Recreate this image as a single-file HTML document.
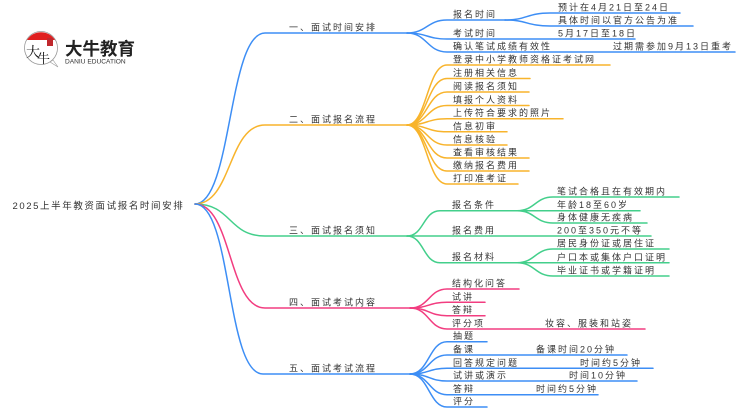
<!DOCTYPE html>
<html><head><meta charset="utf-8">
<style>
html,body{margin:0;padding:0;background:#fff;}
svg{display:block;}
text{font-family:"Liberation Sans","Noto Sans CJK SC",sans-serif;fill:#333;}
</style></head>
<body>
<svg width="750" height="410" viewBox="0 0 750 410" xmlns="http://www.w3.org/2000/svg">
<!-- Logo -->
<g>
  <circle cx="41" cy="48" r="16.5" fill="#fff" stroke="#999" stroke-width="0.8"/>
  <path d="M27,40 A16.5,16.5 0 0 1 55,40 Z" fill="#e02020"/>
  <path d="M50,62 L58,67 L53,60 Z" fill="#fff" stroke="#999" stroke-width="0.6"/>
  <text x="26" y="57" font-size="14" style="fill:#111;font-family:'Noto Serif CJK SC',serif">大</text>
  <text x="37" y="63" font-size="13" style="fill:#111;font-family:'Noto Serif CJK SC',serif">牛</text>
  <rect x="47" y="38" width="6" height="8" fill="#c0282d"/>
  <text x="65" y="55" font-size="17.5" font-weight="bold" style="fill:#222;">大牛教育</text>
  <text x="65" y="63.5" font-size="6.6" style="fill:#333;">DANIU EDUCATION</text>
</g>

<!-- Root -->
<text x="12.5" y="208.8" font-size="9.5" letter-spacing="1.6">2025上半年教资面试报名时间安排</text>

<g fill="none" stroke-width="1.5" stroke-linecap="round">
  <!-- Branch 1 blue -->
  <g stroke="#3d8ef5">
    <path d="M195,204 C232,204 228,33 265,33 H407"/>
    <path d="M407,33 C427,33 427,20 447,20 H505"/>
    <path d="M505,20 C527,20 527,13 550,13 H680"/>
    <path d="M505,20 C527,20 527,26 550,26 H693"/>
    <path d="M407,33 C427,33 427,39 447,39 H635"/>
    <path d="M407,33 C427,33 427,52 447,52 H735"/>
  </g>
  <!-- Branch 2 orange -->
  <g stroke="#f8b42c">
    <path d="M195,204 C232,204 228,125 265,125 H407"/>
    <path d="M407,125 C427,125 427,65 447,65 H610"/>
    <path d="M407,125 C427,125 427,78.5 447,78.5 H530"/>
    <path d="M407,125 C427,125 427,92 447,92 H529"/>
    <path d="M407,125 C427,125 427,105.5 447,105.5 H529"/>
    <path d="M407,125 C427,125 427,118.7 447,118.7 H563"/>
    <path d="M407,125 C427,125 427,131.8 447,131.8 H507"/>
    <path d="M407,125 C427,125 427,145 447,145 H507"/>
    <path d="M407,125 C427,125 427,158 447,158 H529"/>
    <path d="M407,125 C427,125 427,171 447,171 H529"/>
    <path d="M407,125 C427,125 427,184 447,184 H518"/>
  </g>
  <!-- Branch 3 green -->
  <g stroke="#43cf8b">
    <path d="M195,204 C232,204 228,236 265,236 H407"/>
    <path d="M407,236 C424,236 423,210.7 440,210.7 H517"/>
    <path d="M517,210.7 C535,210.7 535,197 553,197 H679"/>
    <path d="M517,210.7 H640"/>
    <path d="M517,210.7 C535,210.7 535,223 553,223 H647"/>
    <path d="M407,236 H651"/>
    <path d="M407,236 C424,236 423,262.7 440,262.7 H517"/>
    <path d="M517,262.7 C535,262.7 535,249 553,249 H669"/>
    <path d="M517,262.7 H669"/>
    <path d="M517,262.7 C535,262.7 535,276 553,276 H669"/>
  </g>
  <!-- Branch 4 pink -->
  <g stroke="#f23d80">
    <path d="M195,204 C232,204 228,308 265,308 H410"/>
    <path d="M410,308 C429,308 429,289 447,289 H519"/>
    <path d="M410,308 C429,308 429,302.3 447,302.3 H485"/>
    <path d="M410,308 C429,308 429,315.7 447,315.7 H485"/>
    <path d="M410,308 C429,308 429,329 447,329 H645"/>
  </g>
  <!-- Branch 5 blue -->
  <g stroke="#3d8ef5">
    <path d="M195,204 C232,204 226,374 263,374 H410"/>
    <path d="M410,374 C429,374 429,341.7 447,341.7 H487"/>
    <path d="M410,374 C429,374 429,355 447,355 H627"/>
    <path d="M410,374 C429,374 429,368.3 447,368.3 H653"/>
    <path d="M410,374 C429,374 429,381 447,381 H637"/>
    <path d="M410,374 C429,374 429,394.7 447,394.7 H598"/>
    <path d="M410,374 C429,374 429,407 447,407 H487"/>
  </g>
</g>

<g font-size="9" letter-spacing="2">
  <!-- Branch labels -->
  <text x="289" y="30.5">一、面试时间安排</text>
  <text x="289" y="122.5">二、面试报名流程</text>
  <text x="289" y="233.5">三、面试报名须知</text>
  <text x="289" y="305.5">四、面试考试内容</text>
  <text x="289" y="371.5">五、面试考试流程</text>

  <!-- Branch 1 -->
  <text x="453" y="17.5">报名时间</text>
  <text x="558" y="10.5">预计在4月21日至24日</text>
  <text x="558" y="23.5">具体时间以官方公告为准</text>
  <text x="453" y="36.5">考试时间</text>
  <text x="558" y="36.5">5月17日至18日</text>
  <text x="453" y="49.5">确认笔试成绩有效性</text>
  <text x="613" y="49.5">过期需参加9月13日重考</text>

  <!-- Branch 2 -->
  <text x="453" y="62.5">登录中小学教师资格证考试网</text>
  <text x="453" y="76">注册相关信息</text>
  <text x="453" y="89.5">阅读报名须知</text>
  <text x="453" y="103">填报个人资料</text>
  <text x="453" y="116.2">上传符合要求的照片</text>
  <text x="453" y="129.3">信息初审</text>
  <text x="453" y="142.5">信息核验</text>
  <text x="453" y="155.5">查看审核结果</text>
  <text x="453" y="168.5">缴纳报名费用</text>
  <text x="453" y="181.5">打印准考证</text>

  <!-- Branch 3 -->
  <text x="452" y="208.2">报名条件</text>
  <text x="557" y="194.5">笔试合格且在有效期内</text>
  <text x="557" y="208.2">年龄18至60岁</text>
  <text x="557" y="220.5">身体健康无疾病</text>
  <text x="452" y="233.5">报名费用</text>
  <text x="557" y="233.5">200至350元不等</text>
  <text x="452" y="260.2">报名材料</text>
  <text x="557" y="246.5">居民身份证或居住证</text>
  <text x="557" y="260.5">户口本或集体户口证明</text>
  <text x="557" y="273.5">毕业证书或学籍证明</text>

  <!-- Branch 4 -->
  <text x="452" y="286.5">结构化问答</text>
  <text x="452" y="299.8">试讲</text>
  <text x="452" y="313.2">答辩</text>
  <text x="452" y="326.5">评分项</text>
  <text x="545" y="326.5">妆容、服装和站姿</text>

  <!-- Branch 5 -->
  <text x="453" y="339.2">抽题</text>
  <text x="453" y="352.5">备课</text>
  <text x="536" y="352.5">备课时间20分钟</text>
  <text x="453" y="365.8">回答规定问题</text>
  <text x="580" y="365.8">时间约5分钟</text>
  <text x="453" y="378.5">试讲或演示</text>
  <text x="569" y="378.5">时间10分钟</text>
  <text x="453" y="392.2">答辩</text>
  <text x="536" y="392.2">时间约5分钟</text>
  <text x="453" y="404.5">评分</text>
</g>
</svg>
</body></html>
